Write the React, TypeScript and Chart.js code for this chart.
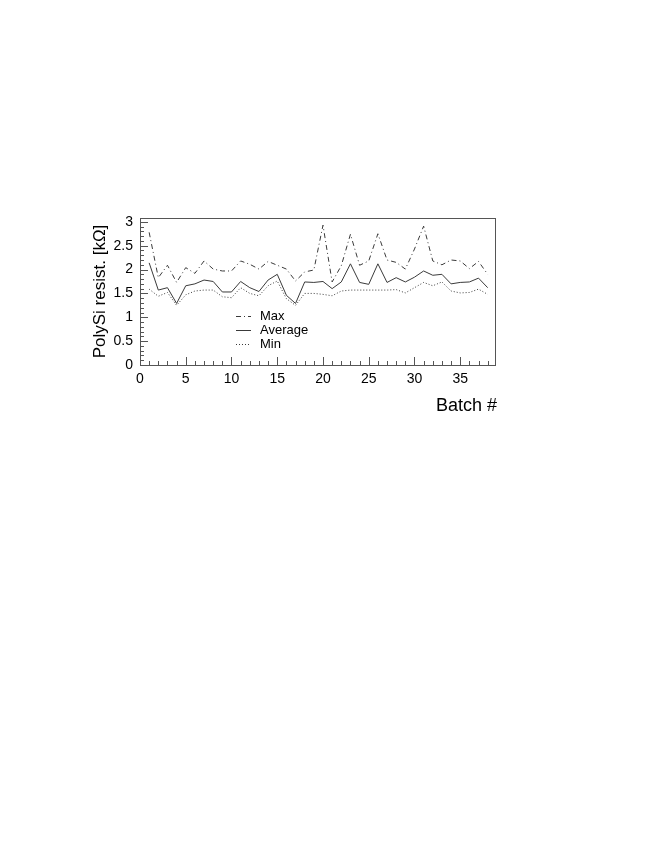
import React, { useEffect, useRef } from "react";
import { Chart, registerables } from "chart.js";

Chart.register(...registerables);

const batches: number[] = Array.from({ length: 38 }, (_, i) => i + 1);
const maxValues: number[] = [
  2.78, 1.83, 2.09, 1.73, 2.04, 1.92, 2.18, 2.01, 1.97, 1.97,
  2.18, 2.11, 2.01, 2.17, 2.09, 2.01, 1.76, 1.95, 1.99, 2.93,
  1.74, 2.08, 2.74, 2.09, 2.18, 2.75, 2.2, 2.15, 2.01, 2.43,
  2.91, 2.18, 2.1, 2.2, 2.18, 2.02, 2.17, 1.9,
];
const avgValues: number[] = [
  2.14, 1.57, 1.62, 1.29, 1.66, 1.7, 1.78, 1.75, 1.53, 1.53,
  1.75, 1.62, 1.54, 1.78, 1.9, 1.46, 1.29, 1.74, 1.73, 1.75,
  1.6, 1.74, 2.12, 1.73, 1.69, 2.12, 1.73, 1.83, 1.74, 1.84,
  1.97, 1.88, 1.9, 1.7, 1.73, 1.74, 1.82, 1.62,
];
const minValues: number[] = [
  1.59, 1.44, 1.52, 1.25, 1.47, 1.55, 1.57, 1.57, 1.43, 1.41,
  1.62, 1.5, 1.45, 1.66, 1.76, 1.39, 1.25, 1.5, 1.5, 1.48,
  1.45, 1.55, 1.57, 1.57, 1.57, 1.57, 1.57, 1.58, 1.51, 1.62,
  1.73, 1.66, 1.74, 1.55, 1.51, 1.52, 1.59, 1.48,
];
const xTickValues: number[] = [0, 5, 10, 15, 20, 25, 30, 35];
const yTickValues: number[] = [0, 0.5, 1, 1.5, 2, 2.5, 3];
const seriesNames: string[] = ["Max", "Average", "Min"];
const yTitle = "PolySi resist. [k\u03A9]";
const xTitle = "Batch #";

const FONT = "'Liberation Sans', Arial, Helvetica, sans-serif";
const LINE = "#3a3a3a";
const DASHES: number[][] = [[5, 3, 1, 3], [], [1, 2]];

const framePlugin = {
  id: "rootFrame",
  afterDraw(chart: any) {
    const { ctx, chartArea: a, scales } = chart;
    const xs = scales.x;
    const ys = scales.y;
    ctx.save();
    // frame
    ctx.strokeStyle = "#555";
    ctx.lineWidth = 1;
    ctx.setLineDash([]);
    ctx.strokeRect(Math.round(a.left) + 0.5, Math.round(a.top) + 0.5, Math.round(a.right - a.left), Math.round(a.bottom - a.top));
    // x ticks (inward)
    ctx.beginPath();
    for (let v = 0; v <= 38; v++) {
      const px = Math.round(xs.getPixelForValue(v)) + 0.5;
      const len = v % 5 === 0 ? 8 : 4;
      ctx.moveTo(px, a.bottom);
      ctx.lineTo(px, a.bottom - len);
    }
    // y ticks (inward)
    for (let i = 0; i <= 30; i++) {
      const v = i / 10;
      const py = Math.round(ys.getPixelForValue(v)) + 0.5;
      const len = i % 5 === 0 ? 8 : 4;
      ctx.moveTo(a.left, py);
      ctx.lineTo(a.left + len, py);
    }
    ctx.stroke();

    // legend
    const ds = chart.data.datasets;
    const lx0 = 236;
    const lx1 = 251;
    const ly = [316, 330, 344];
    ctx.font = `13px ${FONT}`;
    ctx.textBaseline = "middle";
    ctx.textAlign = "left";
    for (let i = 0; i < ds.length; i++) {
      ctx.beginPath();
      ctx.setLineDash(DASHES[i]);
      ctx.strokeStyle = LINE;
      ctx.moveTo(lx0, ly[i] + 0.5);
      ctx.lineTo(lx1, ly[i] + 0.5);
      ctx.stroke();
      ctx.setLineDash([]);
      ctx.fillStyle = "#000";
      ctx.fillText(ds[i].label, 260, ly[i]);
    }

    // axis titles
    ctx.fillStyle = "#000";
    ctx.font = `18px ${FONT}`;
    ctx.textAlign = "right";
    ctx.textBaseline = "middle";
    ctx.fillText(xTitle, a.right + 2, 406);
    ctx.save();
    ctx.translate(100, (a.top + a.bottom) / 2);
    ctx.rotate(-Math.PI / 2);
    ctx.textAlign = "center";
    ctx.textBaseline = "middle";
    ctx.font = `17px ${FONT}`;
    ctx.fillText(yTitle, 0, 0);
    ctx.restore();
    ctx.restore();
  },
};

export default function App() {
  const ref = useRef<HTMLCanvasElement | null>(null);
  useEffect(() => {
    if (!ref.current) return;
    const series = [maxValues, avgValues, minValues];
    const chart = new Chart(ref.current, {
      type: "line",
      data: {
        datasets: series.map((vals, i) => ({
          label: seriesNames[i],
          data: batches.map((b, j) => ({ x: b, y: vals[j] })),
          borderColor: LINE,
          borderWidth: 1,
          borderDash: DASHES[i],
          pointRadius: 0,
          fill: false,
          tension: 0,
        })),
      },
      options: {
        animation: false,
        responsive: false,
        maintainAspectRatio: false,
        layout: { padding: { left: 100, right: 159, top: 218, bottom: 451 } },
        plugins: { legend: { display: false }, tooltip: { enabled: false } },
        scales: {
          x: {
            type: "linear",
            min: 0,
            max: 38.8,
            grid: { display: false, drawTicks: false, tickLength: 0 },
            border: { display: false },
            afterBuildTicks: (s: any) => {
              s.ticks = xTickValues.map((v) => ({ value: v }));
            },
            afterFit: (s: any) => {
              s.height = 30;
            },
            ticks: {
              padding: 6,
              color: "#000",
              maxRotation: 0,
              font: { family: FONT, size: 14 },
              callback: (v: any) => String(v),
            },
          },
          y: {
            type: "linear",
            min: 0,
            max: 3.08,
            grid: { display: false, drawTicks: false, tickLength: 0 },
            border: { display: false },
            afterBuildTicks: (s: any) => {
              s.ticks = yTickValues.map((v) => ({ value: v }));
            },
            afterFit: (s: any) => {
              s.width = 40;
            },
            ticks: {
              padding: 7,
              color: "#000",
              font: { family: FONT, size: 14 },
              callback: (v: any) => String(v),
            },
          },
        },
      },
      plugins: [framePlugin],
    });
    return () => chart.destroy();
  }, []);
  return (
    <div style={{ position: "absolute", left: 0, top: 0, width: 654, height: 846, background: "#fff" }}>
      <canvas ref={ref} width={654} height={846} style={{ width: 654, height: 846 }} />
    </div>
  );
}
